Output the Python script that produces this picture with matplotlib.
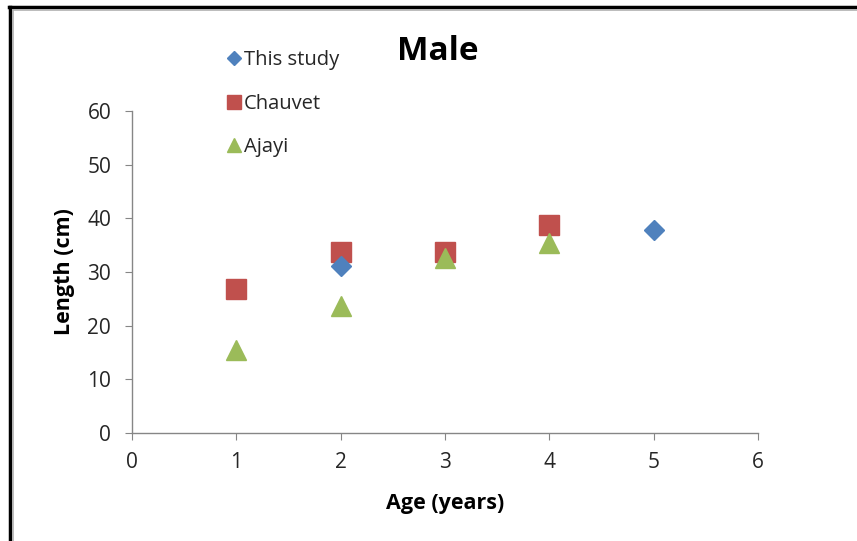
import matplotlib.pyplot as plt
from matplotlib.lines import Line2D

# data
study_age = [2, 5]
study_len = [31.1, 37.8]

chauvet_age = [1, 2, 3, 4]
chauvet_len = [26.8, 33.7, 33.7, 38.8]

ajayi_age = [1, 2, 3, 4]
ajayi_len = [15.5, 23.6, 32.6, 35.4]

xticks = [0, 1, 2, 3, 4, 5, 6]
yticks = [0, 10, 20, 30, 40, 50, 60]

blue = "#4F81BD"
red = "#C0504D"
green = "#9BBB59"
grey = "#868686"

plt.rcParams['font.family'] = ['Open Sans', 'DejaVu Sans']

fig = plt.figure(figsize=(8.57, 5.41), dpi=100)
ax = fig.add_axes([0.154, 0.1996, 0.7306, 0.5952])

ax.plot(study_age, study_len, linestyle='none', marker='D', markersize=10,
        color=blue, label="This study", zorder=3)
ax.plot(chauvet_age, chauvet_len, linestyle='none', marker='s', markersize=14,
        color=red, label="Chauvet", zorder=2)
ax.plot(ajayi_age, ajayi_len, linestyle='none', marker='^', markersize=15,
        color=green, label="Ajayi", zorder=4)

ax.set_xlim(0, 6)
ax.set_ylim(0, 60)
ax.set_xticks(xticks)
ax.set_yticks(yticks)

for s in ['top', 'right']:
    ax.spines[s].set_visible(False)
for s in ['left', 'bottom']:
    ax.spines[s].set_color(grey)
    ax.spines[s].set_linewidth(1)
ax.tick_params(direction='out', length=5, color=grey, labelsize=15,
               labelcolor='#262626')
ax.tick_params(axis='y', pad=10)
ax.tick_params(axis='x', pad=9)

ax.set_xlabel("Age (years)", fontsize=15.5, fontweight='bold', labelpad=14)
ax.set_ylabel("Length (cm)", fontsize=15.5, fontweight='bold', labelpad=9)

fig.text(0.511, 0.905, "Male", fontsize=24, fontweight='bold',
         ha='center', va='center')

handles = [
    Line2D([], [], linestyle='none', marker='D', markersize=7, color=blue),
    Line2D([], [], linestyle='none', marker='s', markersize=9.5, color=red),
    Line2D([], [], linestyle='none', marker='^', markersize=10, color=green),
]
fig.legend(handles, ["This study", "Chauvet", "Ajayi"], loc='upper left',
           bbox_to_anchor=(0.2495, 0.926), frameon=False, fontsize=14.5,
           labelspacing=1.17, handletextpad=0.0, handlelength=1.0,
           borderpad=0, labelcolor='#262626')

# the black frame (only top and left edge show in the crop)
fig.add_artist(Line2D([0.0117, 0.0117], [0, 0.987], transform=fig.transFigure,
                      color='black', linewidth=2.5))
fig.add_artist(Line2D([0.0105, 1], [0.987, 0.987], transform=fig.transFigure,
                      color='black', linewidth=2.5))
fig.add_artist(Line2D([0.0155, 0.0155], [0, 0.982], transform=fig.transFigure,
                      color='#b0b0b0', linewidth=1.2))
fig.add_artist(Line2D([0.0155, 1], [0.982, 0.982], transform=fig.transFigure,
                      color='#b0b0b0', linewidth=1.2))

plt.savefig("out.png", dpi=100)
